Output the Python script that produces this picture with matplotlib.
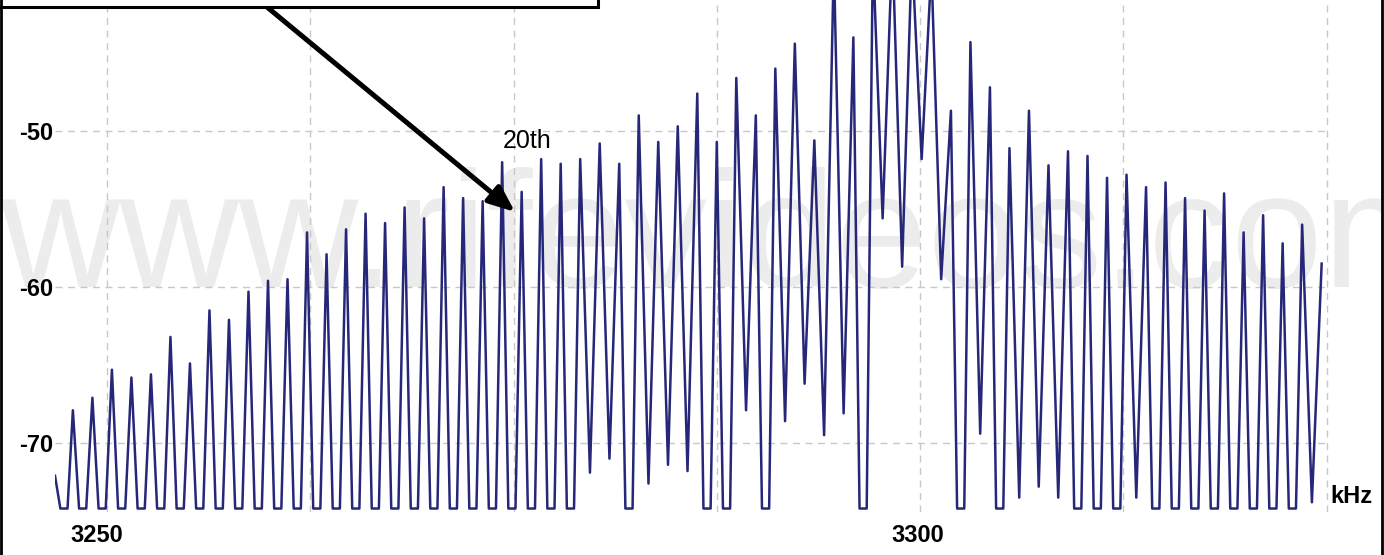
import matplotlib.pyplot as plt
import matplotlib.transforms as mtransforms
from matplotlib.patches import Rectangle
from matplotlib.lines import Line2D

# comb lines (kHz, dB)
peak_khz = [3247.9, 3249.1, 3250.3, 3251.5, 3252.7, 3253.9, 3255.1, 3256.3,
            3257.5, 3258.7, 3259.9, 3261.1, 3262.3, 3263.5, 3264.7, 3265.9,
            3267.1, 3268.3, 3269.5, 3270.7, 3271.9, 3273.1, 3274.3, 3275.5,
            3276.7, 3277.9, 3279.1, 3280.3, 3281.5, 3282.7, 3283.9, 3285.1,
            3286.3, 3287.5, 3288.7, 3289.9, 3291.1, 3292.3, 3293.5, 3294.7,
            3295.9, 3297.1, 3298.3, 3299.5, 3300.7, 3301.9, 3303.1, 3304.3,
            3305.5, 3306.7, 3307.9, 3309.1, 3310.3, 3311.5, 3312.7, 3313.9,
            3315.1, 3316.3, 3317.5, 3318.7, 3319.9, 3321.1, 3322.3, 3323.5,
            3324.7]
peak_db = [-67.9, -67.1, -65.3, -65.8, -65.6, -63.2, -64.9, -61.5,
           -62.1, -60.3, -59.6, -59.5, -56.5, -57.9, -56.3, -55.3,
           -55.9, -54.9, -55.6, -53.6, -54.3, -54.5, -52.0, -53.9,
           -51.8, -52.1, -51.8, -50.8, -52.1, -49.0, -50.7, -49.7,
           -47.6, -50.7, -46.6, -49.0, -46.0, -44.4, -50.6, -39.0,
           -44.0, -38.5, -38.0, -38.5, -39.5, -48.7, -44.3, -47.2,
           -51.1, -48.7, -52.2, -51.3, -51.6, -53.0, -52.8, -53.6,
           -53.3, -54.3, -55.1, -54.0, -56.5, -55.4, -57.2, -56.0,
           -58.5]
# level of the dip just before each line
dip_db = [-74.2, -74.2, -74.2, -74.2, -74.2, -74.2, -74.2, -74.2,
          -74.2, -74.2, -74.2, -74.2, -74.2, -74.2, -74.2, -74.2,
          -74.2, -74.2, -74.2, -74.2, -74.2, -74.2, -74.2, -74.2,
          -74.2, -74.2, -74.2, -71.9, -71.0, -74.2, -72.6, -71.4,
          -71.8, -74.2, -74.2, -67.9, -74.2, -68.6, -66.2, -69.5,
          -68.1, -74.2, -55.6, -58.7, -51.8, -59.5, -74.2, -69.4,
          -74.2, -73.5, -72.8, -73.5, -74.2, -74.2, -74.2, -73.5,
          -74.2, -74.2, -74.2, -74.2, -74.2, -74.2, -74.2, -74.2,
          -73.8]
floor_db = -74.2
start_khz, start_db = 3246.8, -72.1

grid_khz = [3250, 3262.5, 3275, 3287.5, 3300, 3312.5, 3325]
grid_db = [-50, -60, -70]
xlabels = ['3250', '3300']
xlabel_khz = [3250, 3300]

W, H = 1384, 555
fig = plt.figure(figsize=(W / 100, H / 100), dpi=100)
ax = fig.add_axes([55 / W, (H - 512) / H, (1330 - 55) / W, 512 / H])

# build the trace: line tops joined through the dips
xs, ys = [start_khz], [start_db]
prev = start_khz
half = 0.22
for f, p, d in zip(peak_khz, peak_db, dip_db):
    c = (prev + f) / 2
    if d == floor_db:
        xs += [c - half, c + half]
        ys += [d, d]
    else:
        xs.append(c)
        ys.append(d)
    xs.append(f)
    ys.append(p)
    prev = f

ax.plot(xs, ys, color='#27277a', lw=1.8, zorder=3)

ax.set_xlim(3246.8, 3246.8 + 1275 / 16.26)
ax.set_ylim(-50 - 381 / 15.6, -50 + 131 / 15.6)

for g in grid_khz:
    ax.axvline(g, color='#c8c8c8', lw=1, ls=(0, (5, 4)), zorder=1)
for g in grid_db:
    ax.axhline(g, color='#c8c8c8', lw=1, ls=(0, (5, 4)), zorder=1)

ax.set_xticks([])
ax.set_yticks(grid_db)
ax.set_yticklabels([str(v) for v in grid_db], fontsize=17, fontweight='bold',
                   family='Liberation Sans')
ax.tick_params(axis='y', length=0, pad=1.5)
for s in ax.spines.values():
    s.set_visible(False)

offs = [-10, -2]
for lab, k, o in zip(xlabels, xlabel_khz, offs):
    tr = ax.get_xaxis_transform() + mtransforms.ScaledTranslation(o / 100, 0, fig.dpi_scale_trans)
    ax.text(k, -0.045, lab, transform=tr, ha='center', va='center',
            fontsize=17, fontweight='bold', family='Liberation Sans')

fig.text(1330 / W, (H - 503) / H, 'kHz', ha='left', va='baseline',
         fontsize=17, fontweight='bold', family='Liberation Sans')

# watermark behind the trace
ax.text(0, (H - 287) / H, 'www.rifevideos.com', transform=fig.transFigure,
        fontsize=119, family='Liberation Sans', color='#ececec',
        ha='left', va='baseline', zorder=0.2)

ax.text(3274.35, -51.09, '20th', fontsize=18, family='Liberation Sans',
        ha='left', va='baseline', zorder=5)
ax.annotate('', xy=(3275.09, -55.19), xytext=(3258.5, -40.9),
            arrowprops=dict(arrowstyle='-|>,head_length=0.8,head_width=0.33',
                            mutation_scale=20, lw=3.6, color='black',
                            shrinkA=0, shrinkB=0),
            annotation_clip=False, zorder=6)

# cut-off caption box at top left and the outer frame
fig.add_artist(Rectangle((-0.01, 1 - 6.5 / H), 598 / W + 0.01, 0.1,
                         transform=fig.transFigure, facecolor='white',
                         edgecolor='black', lw=2.2, zorder=10))
for xf in [1 / W, (W - 2) / W]:
    fig.add_artist(Line2D([xf, xf], [0, 1], transform=fig.transFigure,
                          color='black', lw=2, zorder=11))

fig.savefig('out.png', dpi=100)
